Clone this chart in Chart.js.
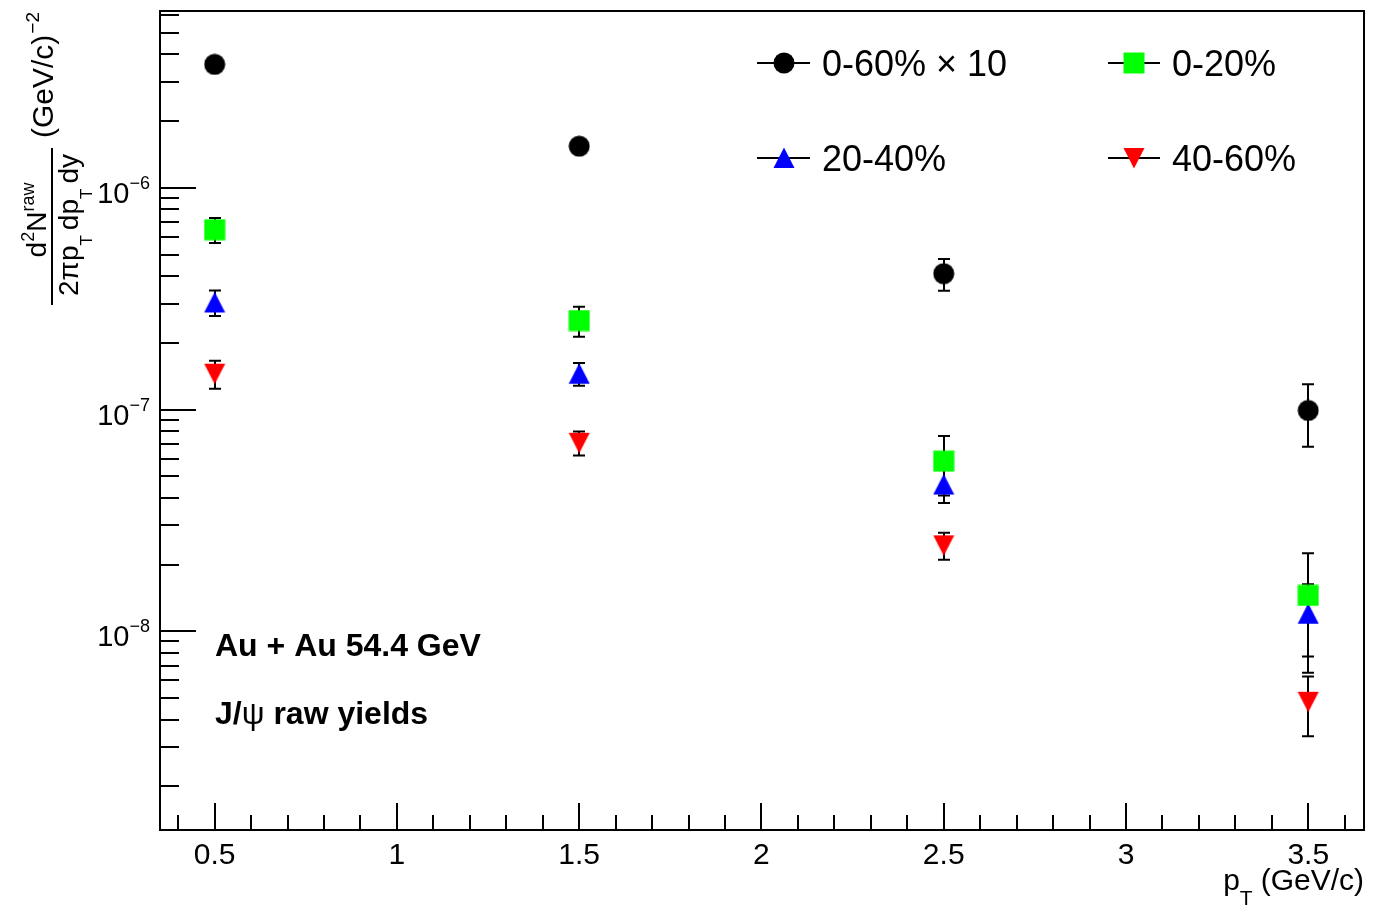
<!DOCTYPE html>
<html>
<head>
<meta charset="utf-8">
<title>J/psi raw yields - Au+Au 54.4 GeV</title>
<script src="https://cdn.jsdelivr.net/npm/chart.js@4.4.1/dist/chart.umd.min.js"></script>
<style>
  html, body { margin: 0; padding: 0; background: #fff; }
  #wrap { width: 1375px; height: 910px; }
</style>
</head>
<body>
<div id="wrap"><canvas id="chart" width="1375" height="910"></canvas></div>
<script>
/* ════════════════════════════════════════════
   J/psi raw yields vs pT — ROOT-style log plot
   ════════════════════════════════════════════ */

const FONT = '"Liberation Sans", Arial, Helvetica, sans-serif';

// ── Data ─────────────────────────────────────
const ptCenters = [0.5, 1.5, 2.5, 3.5];

const seriesLabels = ['0-60% \u00d7 10', '0-20%', '20-40%', '40-60%'];

const yield0to60x10 = [3.6e-6, 1.54e-6, 4.1e-7, 9.9e-8];
const err0to60x10   = [1.5e-7, 6.0e-8, 6.7e-8, 3.1e-8];

const yield0to20 = [6.47e-7, 2.52e-7, 5.85e-8, 1.45e-8];
const err0to20   = [8.3e-8, 3.9e-8, 1.75e-8, 8.0e-9];

const yield20to40 = [3.04e-7, 1.45e-7, 4.59e-8, 1.20e-8];
const err20to40   = [4.0e-8, 1.7e-8, 8.0e-9, 4.3e-9];

const yield40to60 = [1.45e-7, 7.08e-8, 2.44e-8, 4.81e-9];
const err40to60   = [2.1e-8, 8.8e-9, 3.4e-9, 1.45e-9];

const xTickValues = [0.5, 1, 1.5, 2, 2.5, 3, 3.5];
const xTickLabels = ['0.5', '1', '1.5', '2', '2.5', '3', '3.5'];
const yTickValues = [1e-8, 1e-7, 1e-6];
const yTickExponents = ['\u22128', '\u22127', '\u22126'];

const X_MIN = 0.35, X_MAX = 3.653;
const Y_MIN = 1.27e-9, Y_MAX = 6.27e-6;

// ── Markers (ROOT style 20 / 21 / 22 / 23) ───
function makeMarker(shape, color) {
  const c = document.createElement('canvas');
  c.width = 22; c.height = 22;
  const g = c.getContext('2d');
  g.fillStyle = color;
  g.beginPath();
  if (shape === 'circle') g.arc(11, 11, 10.5, 0, Math.PI * 2);
  else if (shape === 'square') g.rect(0.5, 0.5, 21, 21);
  else if (shape === 'up') { g.moveTo(11, 0.5); g.lineTo(21.5, 21); g.lineTo(0.5, 21); }
  else { g.moveTo(0.5, 1); g.lineTo(21.5, 1); g.lineTo(11, 21.5); }
  g.closePath();
  g.fill();
  return c;
}

const markers = [
  makeMarker('circle', '#000000'),
  makeMarker('square', '#00ff00'),
  makeMarker('up', '#0000ff'),
  makeMarker('down', '#ff0000')
];

const seriesValues = [yield0to60x10, yield0to20, yield20to40, yield40to60];
const seriesErrors = [err0to60x10, err0to20, err20to40, err40to60];

const datasets = seriesLabels.map((label, i) => ({
  label,
  data: ptCenters.map((x, j) => ({ x, y: seriesValues[i][j] })),
  errors: seriesErrors[i],
  pointStyle: markers[i],
  pointRadius: 10,
  pointHoverRadius: 10,
  showLine: false
}));

// ── Text helpers ─────────────────────────────
// runs: [{ t, size, dy, weight, gap }] drawn left to right from (x, y)
function runsWidth(ctx, runs) {
  let w = 0;
  runs.forEach(r => {
    ctx.font = `${r.weight || 'normal'} ${r.size}px ${FONT}`;
    w += ctx.measureText(r.t).width + (r.gap || 0);
  });
  return w;
}
function drawRuns(ctx, runs, x, y) {
  let cx = x;
  runs.forEach(r => {
    ctx.font = `${r.weight || 'normal'} ${r.size}px ${FONT}`;
    ctx.fillText(r.t, cx, y + (r.dy || 0));
    cx += ctx.measureText(r.t).width + (r.gap || 0);
  });
}
// rotated -90deg, baseline at screen x = bx, text centred on screen y = cy
function drawRunsVertical(ctx, runs, bx, cy) {
  const w = runsWidth(ctx, runs);
  ctx.save();
  ctx.translate(bx, cy + w / 2);
  ctx.rotate(-Math.PI / 2);
  drawRuns(ctx, runs, 0, 0);
  ctx.restore();
}

// ── ROOT-like frame, ticks, error bars, legend ─
const rootStyle = {
  id: 'rootStyle',
  beforeDatasetsDraw(chart) {
    const { ctx, scales: { x, y } } = chart;
    ctx.save();
    ctx.strokeStyle = '#000';
    ctx.lineWidth = 2;
    chart.data.datasets.forEach(ds => {
      ds.data.forEach((p, i) => {
        const px = Math.round(x.getPixelForValue(p.x));
        const yHi = y.getPixelForValue(p.y + ds.errors[i]);
        const yLo = y.getPixelForValue(p.y - ds.errors[i]);
        ctx.beginPath();
        ctx.moveTo(px, yHi); ctx.lineTo(px, yLo);
        ctx.moveTo(px - 6, yHi); ctx.lineTo(px + 6, yHi);
        ctx.moveTo(px - 6, yLo); ctx.lineTo(px + 6, yLo);
        ctx.stroke();
      });
    });
    ctx.restore();
  },

  afterDraw(chart) {
    const { ctx, chartArea: ca, scales: { x, y } } = chart;
    ctx.save();
    ctx.strokeStyle = '#000';
    ctx.fillStyle = '#000';
    ctx.lineWidth = 2;

    // frame
    ctx.strokeRect(ca.left, ca.top, ca.right - ca.left, ca.bottom - ca.top);

    // x ticks (inside, 0.1 minor / 0.5 major)
    ctx.beginPath();
    for (let k = 4; k <= 36; k++) {
      const px = Math.round(x.getPixelForValue(k / 10));
      if (px <= ca.left || px >= ca.right) continue;
      const len = k % 5 === 0 ? 27 : 15;
      ctx.moveTo(px, ca.bottom);
      ctx.lineTo(px, ca.bottom - len);
    }
    // y ticks (log decades with 2..9 minors)
    for (let n = -9; n <= -6; n++) {
      for (let m = 1; m <= 9; m++) {
        const v = m * Math.pow(10, n);
        if (v <= Y_MIN || v >= Y_MAX) continue;
        const py = Math.round(y.getPixelForValue(v));
        ctx.moveTo(ca.left, py);
        ctx.lineTo(ca.left + (m === 1 ? 36 : 19), py);
      }
    }
    ctx.stroke();

    // x tick labels
    ctx.textAlign = 'center';
    ctx.textBaseline = 'alphabetic';
    ctx.font = `30px ${FONT}`;
    xTickValues.forEach((v, i) => {
      ctx.fillText(xTickLabels[i], x.getPixelForValue(v), 864);
    });

    // y tick labels 10^n
    ctx.textAlign = 'left';
    yTickValues.forEach((v, i) => {
      const py = y.getPixelForValue(v);
      ctx.font = `18px ${FONT}`;
      const wSup = ctx.measureText(yTickExponents[i]).width;
      ctx.font = `29px ${FONT}`;
      const wTen = ctx.measureText('10').width;
      const right = 150;
      ctx.fillText('10', right - wSup - wTen, py + 15);
      ctx.font = `18px ${FONT}`;
      ctx.fillText(yTickExponents[i], right - wSup, py + 1);
    });

    // x axis title, right aligned to frame
    const xTitle = [
      { t: 'p', size: 30 },
      { t: 'T', size: 21, dy: 15, gap: 8 },
      { t: '(GeV/c)', size: 30 }
    ];
    drawRuns(ctx, xTitle, ca.right - runsWidth(ctx, xTitle), 890);

    // y axis title: fraction + units
    const numer = [
      { t: 'd', size: 28 },
      { t: '2', size: 18, dy: -12 },
      { t: 'N', size: 28 },
      { t: 'raw', size: 18, dy: -12 }
    ];
    const denom = [
      { t: '2\u03c0p', size: 28 },
      { t: 'T', size: 17, dy: 14, gap: 5 },
      { t: 'dp', size: 28 },
      { t: 'T', size: 17, dy: 14, gap: 5 },
      { t: 'dy', size: 28 }
    ];
    drawRunsVertical(ctx, numer, 46, 220);
    drawRunsVertical(ctx, denom, 78, 225);
    ctx.beginPath();
    ctx.moveTo(52, 305); ctx.lineTo(52, 148);
    ctx.stroke();
    const units = [
      { t: '(GeV/c)', size: 30, gap: 1 },
      { t: '\u22122', size: 19, dy: -14 }
    ];
    ctx.save();
    ctx.translate(53, 138);
    ctx.rotate(-Math.PI / 2);
    drawRuns(ctx, units, 0, 0);
    ctx.restore();

    // annotations
    drawRuns(ctx, [{ t: 'Au + Au 54.4 GeV', size: 32, weight: 'bold' }], 215, 656);
    drawRuns(ctx, [
      { t: 'J/', size: 32, weight: 'bold' },
      { t: '\u03c8', size: 32 },
      { t: ' raw yields', size: 32, weight: 'bold' }
    ], 215, 724);

    // legend (2 x 2, ROOT TLegend style)
    const colLine = [[757, 810], [1108, 1160]];
    const colText = [822, 1172];
    const rowY = [63, 158];
    chart.data.datasets.forEach((ds, i) => {
      const col = i % 2, row = Math.floor(i / 2);
      const ly = rowY[row];
      ctx.beginPath();
      ctx.moveTo(colLine[col][0], ly);
      ctx.lineTo(colLine[col][1], ly);
      ctx.stroke();
      const mk = ds.pointStyle;
      const mx = (colLine[col][0] + colLine[col][1]) / 2;
      ctx.drawImage(mk, Math.round(mx - mk.width / 2), Math.round(ly - mk.height / 2));
      ctx.font = `36px ${FONT}`;
      ctx.textAlign = 'left';
      ctx.fillText(ds.label, colText[col], ly + 13);
    });

    ctx.restore();
  }
};

// ── Chart ────────────────────────────────────
new Chart(document.getElementById('chart'), {
  type: 'scatter',
  data: { datasets },
  options: {
    responsive: false,
    animation: false,
    devicePixelRatio: 1,
    layout: { padding: { left: 160, right: 2, top: 10, bottom: 80 } },
    plugins: {
      legend: { display: false },
      tooltip: { enabled: false }
    },
    scales: {
      x: { type: 'linear', min: X_MIN, max: X_MAX, display: false },
      y: { type: 'logarithmic', min: Y_MIN, max: Y_MAX, display: false }
    }
  },
  plugins: [rootStyle]
});
</script>
</body>
</html>
